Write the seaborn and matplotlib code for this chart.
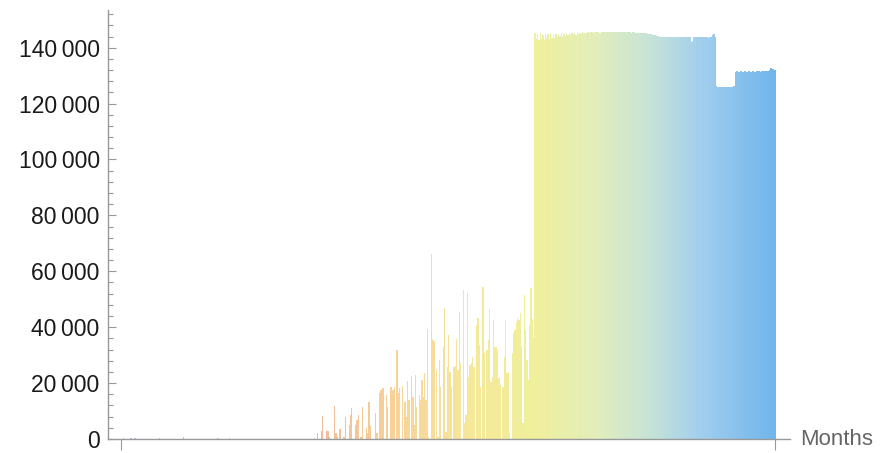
import numpy as np
import pandas as pd
import matplotlib
matplotlib.use("Agg")
import matplotlib.pyplot as plt
import matplotlib.ticker as mticker
from matplotlib.colors import LinearSegmentedColormap
import seaborn as sns

# early months: almost nothing, a few tiny bars
n_early = 146
early_days = [2, 7, 8, 10, 11, 29, 47, 73, 82]
early_vals = [300, 300, 250, 300, 300, 300, 700, 300, 300]

# ramp-up period, spiky
ramp_vals = [
    300, 0, 2300, 0, 0, 2900, 8200, 0, 0, 2900, 2900, 600, 0, 0, 0, 11800,
    2000, 600, 0, 3600, 0, 0, 600, 7800, 0, 0, 5000, 8600, 11000, 0, 0, 5000,
    6800, 8600, 0, 800, 11300, 0, 0, 3800, 2000, 13100, 4650, 0, 0, 0, 9200, 2000,
    0, 16400, 17500, 18100, 18100, 0, 15700, 11600, 0, 18700, 18700, 17500, 18700, 0,
    31900, 16400, 18100, 0, 19000, 0, 13400, 8000, 20600, 14000, 0, 22500, 15200, 5000,
    22900, 11600, 0, 15700, 14000, 21100, 15200, 23500, 14000, 39400, 600, 0, 66200, 35700,
    35200, 0, 24600, 600, 28300, 18700, 0, 33000, 46700, 2600, 25900, 37200, 23800, 18700,
    0, 25900, 26100, 35800, 24700, 45600, 27100, 0, 53300, 5600, 8600, 52200, 22300, 26500,
    27100, 29500, 25900, 0, 40800, 43300, 33600, 18700, 0, 54300, 30700, 0, 31900, 35400,
    46400, 20500, 22300, 42600, 33000, 33000, 31900, 22000, 19300, 0, 18700, 29500, 42600, 23500,
    24100, 2000, 0, 30700, 37800, 39000, 42000, 43200, 42600, 45200, 33000, 5600, 51600, 39000,
    28300, 21000, 40800, 53900, 42800, 36600,
]

# plateau
plateau_vals = [
    145200, 143000, 144800, 142900, 145300, 143200, 144600, 142800, 145100, 143400,
    144900, 143100, 145200, 143600, 144700, 143300, 145000, 143800, 144900, 144100,
    145300, 143900, 144800, 144300, 145400, 144600, 145100, 144500, 145400, 144900,
    145200, 144700, 145500, 145000, 145300, 144900, 145500, 145100, 145400,
    145400, 145500, 145300, 145600, 145500, 145400, 145600, 145500, 145500, 145600,
    145400, 145600, 145500, 145600, 145600, 145500, 145700, 145600, 145500, 145600,
    145700, 145600, 145600, 145500, 145700, 145600, 145600, 145700, 145500, 145600,
    145600, 145500, 145600, 145500, 145400, 145500, 145500, 145300, 145400, 145400,
    145300, 145200, 145300, 145200, 145100, 145200, 145000, 144900, 145000, 144800,
    144600, 144500, 144400, 144300,
    144100, 143900, 144000, 143800, 144000, 143900, 144000, 143700, 143900, 143900,
    144000, 143800, 143900, 143900, 143800, 144000, 143900, 143800, 143900, 143700,
    143800, 143900, 143800, 143800, 143900, 142200, 142400, 143800, 143900, 143700,
    143800, 143900, 143800, 143900, 143700, 143800, 143900, 143800, 143600, 143800,
    143700, 144600, 144800, 143900,
    126300, 126000, 125900, 125900, 126000, 125800, 125900, 125900, 125800, 125900,
    125900, 125800, 126000, 126200,
    131200, 131600, 131500, 131400, 131600, 131500, 131400, 131500, 131600, 131400,
    131500, 131500, 131400, 131600, 131500, 131400, 131500, 131600, 131500, 131400,
    131500, 131600, 131500, 131500, 131600, 131700, 132100, 132800, 132500, 132300,
    132200,
]

early = np.zeros(n_early)
early[early_days] = early_vals
values = np.concatenate([early, ramp_vals, plateau_vals])
n = len(values)
df = pd.DataFrame({"month": np.arange(n), "value": values})

# pastel gradient purple -> salmon -> yellow -> blue
stops = [
    (0.0, (0.86, 0.68, 0.92)),
    (0.298, (0.94, 0.73, 0.60)),
    (0.427, (0.97, 0.83, 0.60)),
    (0.534, (0.96, 0.91, 0.60)),
    (0.634, (0.94, 0.94, 0.61)),
    (0.733, (0.88, 0.93, 0.74)),
    (0.809, (0.78, 0.89, 0.84)),
    (0.885, (0.64, 0.81, 0.93)),
    (1.0, (0.44, 0.71, 0.92)),
]
cmap = LinearSegmentedColormap.from_list("pastel", stops)
pal = {i: cmap(i / (n - 1)) for i in range(n)}

sns.set_theme(style="white")
plt.rcParams["font.family"] = ["Liberation Sans", "DejaVu Sans"]

fig = plt.figure(figsize=(8.89, 4.53), dpi=100)
ax = fig.add_axes([0.1215, 0.0309, 0.7671, 0.9471])

sns.barplot(data=df, x="month", y="value", hue="month", palette=pal, legend=False,
            native_scale=True, width=1.0, linewidth=0, errorbar=None, saturation=1, ax=ax)
for p in ax.patches:
    p.set_antialiased(False)

ax.set_xlim(-9.8, 504.3)
ax.set_ylim(0, 153500)
ax.set_xlabel("")
ax.set_ylabel("")
ax.set_xticks([0, n - 1])
ax.set_xticklabels(["", ""])
ax.yaxis.set_major_locator(mticker.MultipleLocator(20000))
ax.yaxis.set_minor_locator(mticker.MultipleLocator(4000))
ax.yaxis.set_major_formatter(mticker.FuncFormatter(lambda v, _: f"{int(v):,}".replace(",", "\u2009")))

for s in ["top", "right"]:
    ax.spines[s].set_visible(False)
for s in ["left", "bottom"]:
    ax.spines[s].set_color("#999999")
    ax.spines[s].set_linewidth(1)

ax.tick_params(axis="y", which="major", direction="in", length=5.5, width=0.8, color="#999999",
               labelsize=16.5, labelcolor="#1a1a1a", pad=6, left=True)
ax.tick_params(axis="y", which="minor", direction="in", length=3.5, width=0.8, color="#999999", left=True)
ax.tick_params(axis="x", which="major", direction="out", length=8, width=0.8, color="#999999", bottom=True)

ax.annotate("Months", xy=(1, 0), xycoords="axes fraction", xytext=(10, 0),
            textcoords="offset pixels", va="center", ha="left", fontsize=16, color="#666666")

fig.savefig("out.png", dpi=100)
